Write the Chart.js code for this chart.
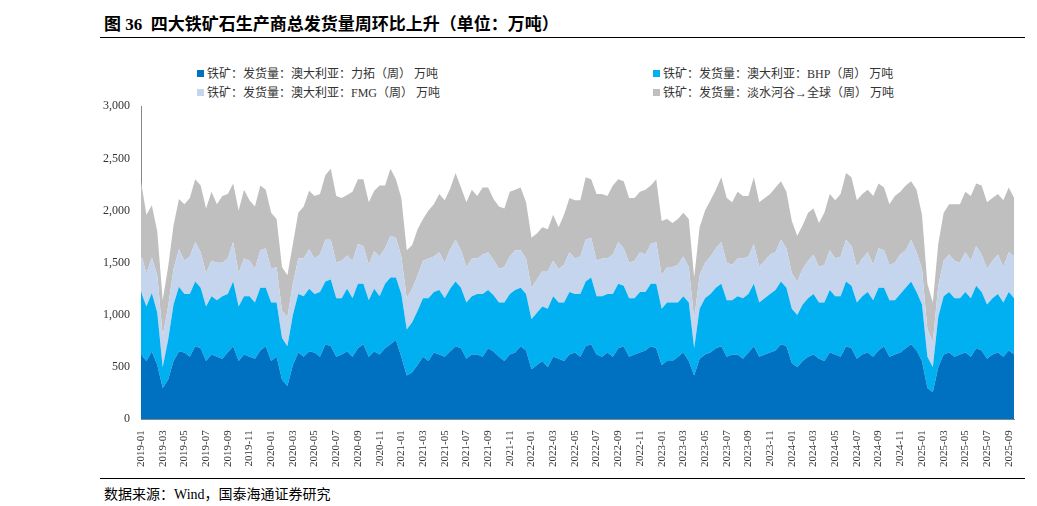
<!DOCTYPE html>
<html><head><meta charset="utf-8">
<script src="https://cdn.jsdelivr.net/npm/chart.js@4"></script>
<style>
body{margin:0;width:1037px;height:506px;background:#fff;font-family:"Liberation Serif","Noto Sans CJK SC",serif;position:relative;overflow:hidden}
#title{position:absolute;left:104px;top:10px;font-size:17px;font-weight:bold;color:#000}
#tl{position:absolute;left:100px;top:37px;width:925px;border-top:1.5px solid #000}
#bl{position:absolute;left:100px;top:478px;width:925px;border-top:1px solid #000}
#src{position:absolute;left:104px;top:483px;font-size:14px}
.lg{position:absolute;font-size:12px;color:#333;white-space:nowrap}
.lg i{display:inline-block;width:7px;height:7px;margin-right:3px;vertical-align:1px}
#wrap{position:absolute;left:100px;top:96px;width:925px;height:374px}
</style></head><body>
<div id="title">图 36&nbsp; 四大铁矿石生产商总发货量周环比上升（单位：万吨）</div>
<div id="tl"></div>
<div class="lg" style="left:197px;top:64px"><i style="background:#0070C0"></i>铁矿：发货量：澳大利亚：力拓（周） 万吨</div>
<div class="lg" style="left:653px;top:64px"><i style="background:#00B0F0"></i>铁矿：发货量：澳大利亚：BHP（周） 万吨</div>
<div class="lg" style="left:197px;top:83px"><i style="background:#C5D5EE"></i>铁矿：发货量：澳大利亚：FMG（周） 万吨</div>
<div class="lg" style="left:653px;top:83px"><i style="background:#BFBFBF"></i>铁矿：发货量：淡水河谷→全球（周） 万吨</div>
<div id="wrap"><canvas id="c"></canvas></div>
<div id="bl"></div>
<div id="src">数据来源：Wind，国泰海通证券研究</div>
<script>
const months=[];
for(let y=2019;y<=2025;y++)for(let m=1;m<=12;m++){if(y===2025&&m>9)break;months.push(y+'-'+String(m).padStart(2,'0'));}
const labels=[];months.forEach(m=>{labels.push(m);labels.push(m);});
const rio=[620,560,650,520,300,380,560,650,640,600,700,680,560,620,600,580,640,700,560,620,600,580,660,700,
560,600,380,320,520,640,600,650,640,600,720,700,600,620,650,600,680,720,600,650,620,680,720,760,
600,420,450,520,600,560,640,620,600,650,700,680,580,620,620,600,680,650,600,560,620,640,700,660,
480,520,560,500,600,580,560,620,640,600,700,720,620,600,640,600,680,700,600,620,640,660,700,680,
520,560,560,600,640,560,420,580,620,640,680,700,600,620,620,580,640,700,600,620,640,660,720,700,
540,500,560,600,620,580,560,640,620,600,700,680,580,620,640,600,660,700,600,620,640,680,720,660,
560,300,260,500,620,640,600,620,640,600,680,660,580,620,640,600,660,620];
const bhp=[600,520,560,500,200,380,540,620,560,600,620,580,520,560,540,600,560,620,520,560,580,540,600,560,
560,520,400,380,480,560,580,600,560,620,600,640,560,540,600,560,620,580,540,600,560,620,640,600,
600,440,480,520,560,600,580,620,560,600,620,580,540,560,580,600,560,540,520,560,580,600,560,540,
480,500,520,560,580,540,560,600,560,600,620,640,560,580,560,600,620,580,560,540,580,560,600,620,
540,560,560,520,540,560,260,480,540,560,580,600,540,520,560,580,560,600,520,540,560,580,600,560,
520,500,540,560,580,540,560,600,560,580,620,600,540,560,580,540,600,560,540,520,560,580,600,560,
540,300,240,480,560,580,560,540,580,560,600,560,520,540,560,520,560,540];
const fmg=[360,320,340,360,300,320,340,360,320,360,380,340,320,340,360,320,340,380,320,360,340,320,360,380,
320,340,260,280,300,340,360,380,340,360,400,380,340,360,320,360,380,360,340,360,380,340,400,380,
360,300,320,340,360,380,340,360,340,380,400,360,340,360,340,380,360,340,320,340,360,380,360,340,
300,320,340,360,340,320,360,380,340,360,400,380,340,360,340,380,400,360,340,360,380,360,380,400,
320,340,340,360,380,340,280,320,340,360,380,400,360,340,360,380,360,380,340,360,380,360,400,380,
340,320,340,360,380,340,360,380,360,380,400,380,340,360,380,340,380,360,340,360,380,360,400,380,
340,260,240,300,340,360,360,340,380,360,380,360,340,360,380,340,380,400];
const vale=[700,560,500,420,340,380,420,480,540,560,600,640,620,660,560,640,620,560,600,660,580,600,620,560,
540,460,420,400,380,440,500,560,600,580,620,680,640,600,580,660,620,640,600,580,680,600,640,560,
560,460,420,440,400,460,500,560,600,580,640,600,620,660,600,640,620,580,600,560,620,580,600,540,
480,440,420,400,440,400,480,520,560,540,600,560,640,620,600,660,600,640,620,600,580,620,560,600,
520,460,420,440,420,460,400,460,500,540,560,620,620,600,640,600,580,640,620,600,580,620,560,540,
500,440,420,460,440,420,500,540,560,600,640,660,640,620,600,660,620,600,580,640,600,620,560,600,
520,440,380,400,460,480,540,560,580,620,600,660,640,600,580,640,620,560];
const mk=(l,d,c,f)=>({label:l,data:d,backgroundColor:c,borderWidth:0,pointRadius:0,fill:f,tension:0});
new Chart(document.getElementById('c'),{type:'line',
data:{labels,datasets:[mk('力拓',rio,'#0070C0','origin'),mk('BHP',bhp,'#00B0F0','-1'),mk('FMG',fmg,'#C5D5EE','-1'),mk('淡水河谷',vale,'#BFBFBF','-1')]},
options:{responsive:true,maintainAspectRatio:false,animation:false,
layout:{padding:{left:0,right:8,top:0}},
plugins:{legend:{display:false},tooltip:{enabled:false}},
scales:{
y:{stacked:true,min:0,max:3000,ticks:{stepSize:500,color:'#333',font:{size:12,family:'Liberation Serif'}},grid:{display:false},border:{color:'#888'}},
x:{grid:{display:false},border:{color:'#888'},ticks:{autoSkip:false,maxRotation:90,minRotation:90,color:'#333',font:{size:11,family:'Liberation Serif'},
callback:(v,i)=>{if(i%2)return null;const m=+labels[i].slice(5);return m%2===1?labels[i]:null;}}}
}}});
</script></body></html>
